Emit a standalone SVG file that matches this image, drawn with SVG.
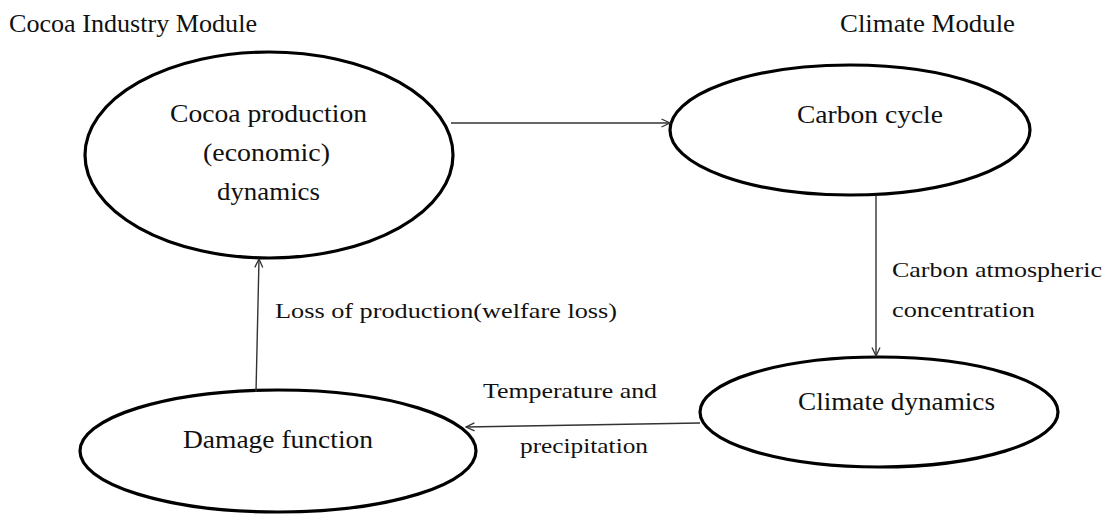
<svg xmlns="http://www.w3.org/2000/svg" width="1104" height="517" viewBox="0 0 1104 517">
<style>
.node ellipse{fill:#fff;stroke:#000;stroke-width:3.2}
text{font-family:"Liberation Serif","Times New Roman",serif;fill:#111}
.t{font-size:25px}
.l{font-size:22px}
.c{stroke:#333;stroke-width:1.4;fill:none;marker-end:url(#ah)}
</style>
<defs>
<marker id="ah" viewBox="0 0 10 10" refX="9.5" refY="5" markerWidth="10" markerHeight="10" markerUnits="userSpaceOnUse" orient="auto">
<path d="M1,1 L9.5,5 L1,9" fill="none" stroke="#333" stroke-width="1.3"/>
</marker>
</defs>
<rect width="1104" height="517" fill="#fff"/>
<g id="module-labels">
<text class="t" x="9" y="32" textLength="248" lengthAdjust="spacingAndGlyphs">Cocoa Industry Module</text>
<text class="t" x="840" y="32" textLength="175" lengthAdjust="spacingAndGlyphs">Climate Module</text>
</g>
<g id="node-cocoa" class="node">
<ellipse cx="269" cy="155" rx="184" ry="103"/>
<text class="t" x="170" y="122" textLength="197" lengthAdjust="spacingAndGlyphs">Cocoa production</text>
<text class="t" x="203" y="161" textLength="127" lengthAdjust="spacingAndGlyphs">(economic)</text>
<text class="t" x="217" y="200" textLength="103" lengthAdjust="spacingAndGlyphs">dynamics</text>
</g>
<g id="node-carbon" class="node">
<ellipse cx="850" cy="130" rx="180" ry="65"/>
<text class="t" x="797" y="123" textLength="146" lengthAdjust="spacingAndGlyphs">Carbon cycle</text>
</g>
<g id="node-climate" class="node">
<ellipse cx="879" cy="412" rx="179" ry="55"/>
<text class="t" x="798" y="410" textLength="197" lengthAdjust="spacingAndGlyphs">Climate dynamics</text>
</g>
<g id="node-damage" class="node">
<ellipse cx="278" cy="451" rx="198" ry="61"/>
<text class="t" x="183" y="448" textLength="190" lengthAdjust="spacingAndGlyphs">Damage function</text>
</g>
<g id="connectors">
<path class="c" d="M451,123 L670,123"/>
<path class="c" d="M876,196 L876,356"/>
<path class="c" d="M700,423 L466,427"/>
<path class="c" d="M256,392 L259,259"/>
</g>
<g id="connector-labels">
<text class="l" x="892" y="277" textLength="210" lengthAdjust="spacingAndGlyphs">Carbon atmospheric</text>
<text class="l" x="892" y="317" textLength="143" lengthAdjust="spacingAndGlyphs">concentration</text>
<text class="l" x="275" y="318" textLength="342" lengthAdjust="spacingAndGlyphs">Loss of production(welfare loss)</text>
<text class="l" x="483" y="398" textLength="174" lengthAdjust="spacingAndGlyphs">Temperature and</text>
<text class="l" x="520" y="453" textLength="128" lengthAdjust="spacingAndGlyphs">precipitation</text>
</g>
</svg>
